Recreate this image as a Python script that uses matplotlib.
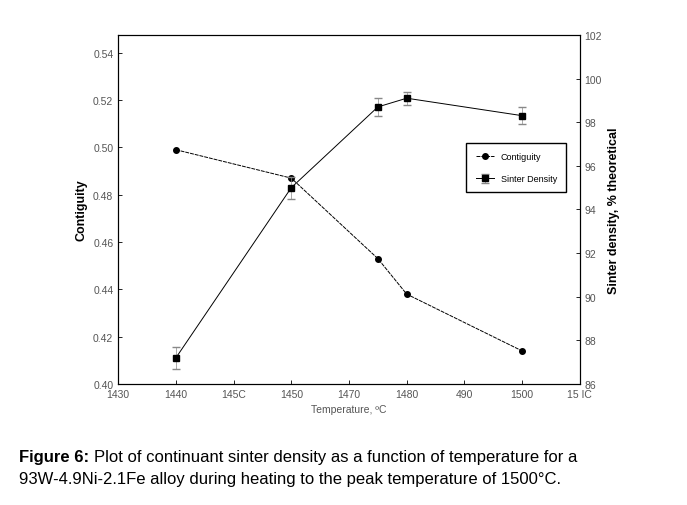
import matplotlib
matplotlib.use("Agg")
import matplotlib.pyplot as plt

temps       = [1440, 1460, 1475, 1480, 1500]
contiguity  = [0.499, 0.487, 0.453, 0.438, 0.414]
density     = [87.2, 95.0, 98.7, 99.1, 98.3]
density_err = [0.5, 0.5, 0.4, 0.3, 0.4]
x_ticks     = [1430, 1440, 1450, 1460, 1470, 1480, 1490, 1500, 1510]
x_labels    = ["1430", "1440", "145C", "1450", "1470", "1480", "490", "1500", "15 IC"]
left_ticks  = [0.40, 0.42, 0.44, 0.46, 0.48, 0.50, 0.52, 0.54]
right_ticks = [86, 88, 90, 92, 94, 96, 98, 100, 102]

plt.rcParams["font.family"] = "Liberation Sans"
fig = plt.figure(figsize=(6.87, 5.06), dpi=100)
ax = fig.add_axes([0.172, 0.239, 0.672, 0.69])
ax2 = ax.twinx()
fs = 7.5
gray = "#555555"

l1, = ax.plot(temps, contiguity, "-", color="black", lw=0.7, dashes=(4, 1),
              marker="o", ms=4, label="Contiguity")
ax.set_xlim(1430, 1510)
ax.set_ylim(0.40, 0.5475)
ax.set_xticks(x_ticks)
ax.set_xticklabels(x_labels, fontsize=fs, color=gray)
ax.set_yticks(left_ticks)
ax.set_yticklabels([f"{v:.2f}" for v in left_ticks], fontsize=fs, color=gray)
ax.set_xlabel("Temperature, ºC", fontsize=fs, color=gray)
ax.set_ylabel("Contiguity", fontsize=9, fontweight="bold")

l2 = ax2.errorbar(temps, density, yerr=density_err, color="black", lw=0.7,
                  marker="s", ms=5, capsize=3, elinewidth=0.5, ecolor="#888888",
                  label="Sinter Density")
ax2.set_ylim(86, 102)
ax2.set_yticks(right_ticks)
ax2.set_yticklabels([str(v) for v in right_ticks], fontsize=fs, color=gray)
ax2.set_ylabel("Sinter density, % theoretical", fontsize=9, fontweight="bold")

for a in (ax, ax2):
    a.tick_params(direction="in", length=3, width=0.6)
    for s in a.spines.values():
        s.set_linewidth(0.8)

ax.legend([l1, l2], ["Contiguity", "Sinter Density"], loc="center right",
          bbox_to_anchor=(0.98, 0.62), fontsize=6.5, fancybox=False,
          edgecolor="black", framealpha=1, labelspacing=1.5, borderpad=1.0)

bold = fig.text(0.027, 0.096, "Figure 6:", fontsize=12, fontweight="bold",
                ha="left", va="center")
fig.canvas.draw()
bb = bold.get_window_extent().transformed(fig.transFigure.inverted())
fig.text(bb.x1 + 0.008, 0.096,
         "Plot of continuant sinter density as a function of temperature for a",
         fontsize=12, ha="left", va="center")
fig.text(0.027, 0.052, "93W-4.9Ni-2.1Fe alloy during heating to the peak temperature of 1500°C.",
         fontsize=12, ha="left", va="center")

fig.savefig("out.png", dpi=100)
